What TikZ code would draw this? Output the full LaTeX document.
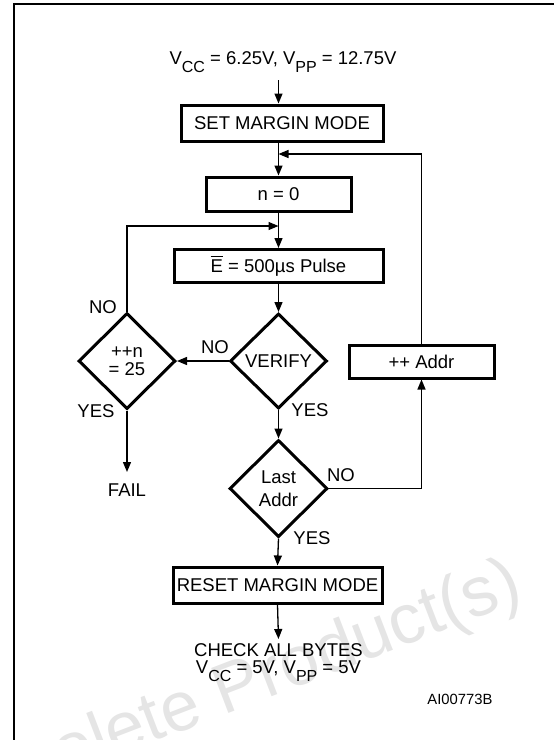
\documentclass[tikz,border=0pt]{standalone}
\usepackage{fontspec}
\setmainfont{Liberation Sans}
\usetikzlibrary{arrows.meta,shapes.geometric}
\newcommand{\ebar}{{\setbox0\hbox{E}\rlap{\raisebox{\dimexpr\ht0+3pt\relax}{\rule{\wd0}{1pt}}}E}}
\newcommand{\lowsub}[1]{\raisebox{-0.42em}{\fontsize{16}{18}\selectfont #1}}
\begin{document}
\begin{tikzpicture}[x=1pt,y=-1pt,
  font=\fontsize{18.5}{22}\selectfont,
  stepbox/.style={draw,line width=3pt,inner sep=0pt,minimum height=34pt},
  decision/.style={draw,diamond,line width=3pt,inner sep=0pt,minimum width=97pt,minimum height=96pt,align=center},
  plain/.style={inner sep=0pt},
  conn/.style={line width=1.3pt},
  arr/.style={conn,-{Triangle[length=10pt,width=8pt]}},
  watermark/.style={text=black!10,font=\fontsize{70}{78}\selectfont,rotate=21,inner sep=0pt}]
\useasboundingbox (0,0) rectangle (554,740);
% watermark
\node[watermark] (wm) at (228,694) {Obsolete Product(s)};
% frame
\draw[line width=2.6pt] (14,742) -- (14,4) -- (556,4);
% nodes
\node[plain] (title) at (283,62) {V\lowsub{CC} = 6.25V, V\lowsub{PP} = 12.75V};
\node[stepbox,minimum width=202pt,minimum height=36pt] (set) at (282,123) {SET MARGIN MODE};
\node[stepbox,minimum width=145pt] (n0) at (278.5,194) {n = 0};
\node[stepbox,minimum width=209pt,minimum height=33pt] (pulse) at (278.5,266) {\ebar\ = 500µs Pulse};
\node[decision,minimum height=95pt] (verify) at (278.5,361) {VERIFY};
\node[decision,font=\fontsize{18.5}{18.5}\selectfont] (inc) at (127,361) {++n\\= 25};
\node[decision,minimum width=98pt,minimum height=97pt,font=\fontsize{18.5}{23}\selectfont] (last) at (278.5,488.5) {Last\\Addr};
\node[stepbox,minimum width=145pt,minimum height=33pt] (addr) at (421.5,361.5) {++ Addr};
\node[stepbox,minimum width=209pt,minimum height=36pt] (reset) at (277.5,585) {RESET MARGIN MODE};
\node[plain] (fail) at (127,490) {FAIL};
\node[plain] (check) at (278.5,650) {CHECK ALL BYTES};
\node[plain] (vcc) at (278.5,671) {V\lowsub{CC} = 5V, V\lowsub{PP} = 5V};
\node[plain,font=\fontsize{14.8}{16}\selectfont] (id) at (460,699) {AI00773B};
% labels
\node[plain] (noinc) at (103,307) {NO};
\node[plain] (yesinc) at (96,411) {YES};
\node[plain] (nover) at (215,347) {NO};
\node[plain] (yesver) at (310,410) {YES};
\node[plain] (nolast) at (341,475) {NO};
\node[plain] (yeslast) at (312,538) {YES};
% coordinates
\coordinate (ttop) at (278.5,80);
\coordinate (fb) at (278.5,154);
\coordinate (lp) at (278.5,226);
\coordinate (failtip) at (127,472);
\coordinate (checktip) at (278.5,639);
% connectors
\draw[arr] (ttop) -- (n0 |- set.north);
\draw[arr] (n0 |- set.south) -- (n0.north);
\draw[arr] (addr.north) |- (fb);
\draw[arr] (n0.south) -- (pulse.north);
\draw[arr] (inc.north) |- (lp);
\draw[arr] (pulse.south) -- (verify.north);
\draw[arr] (verify.west) -- (inc.east);
\draw[arr] (verify.south) -- (last.north);
\draw[arr] (inc.south) -- (failtip);
\draw[arr] (last.east) -| (addr.south);
\draw[arr] (last.south) -- (reset.north);
\draw[arr] (reset.south) -- (checktip);
\end{tikzpicture}
\end{document}
